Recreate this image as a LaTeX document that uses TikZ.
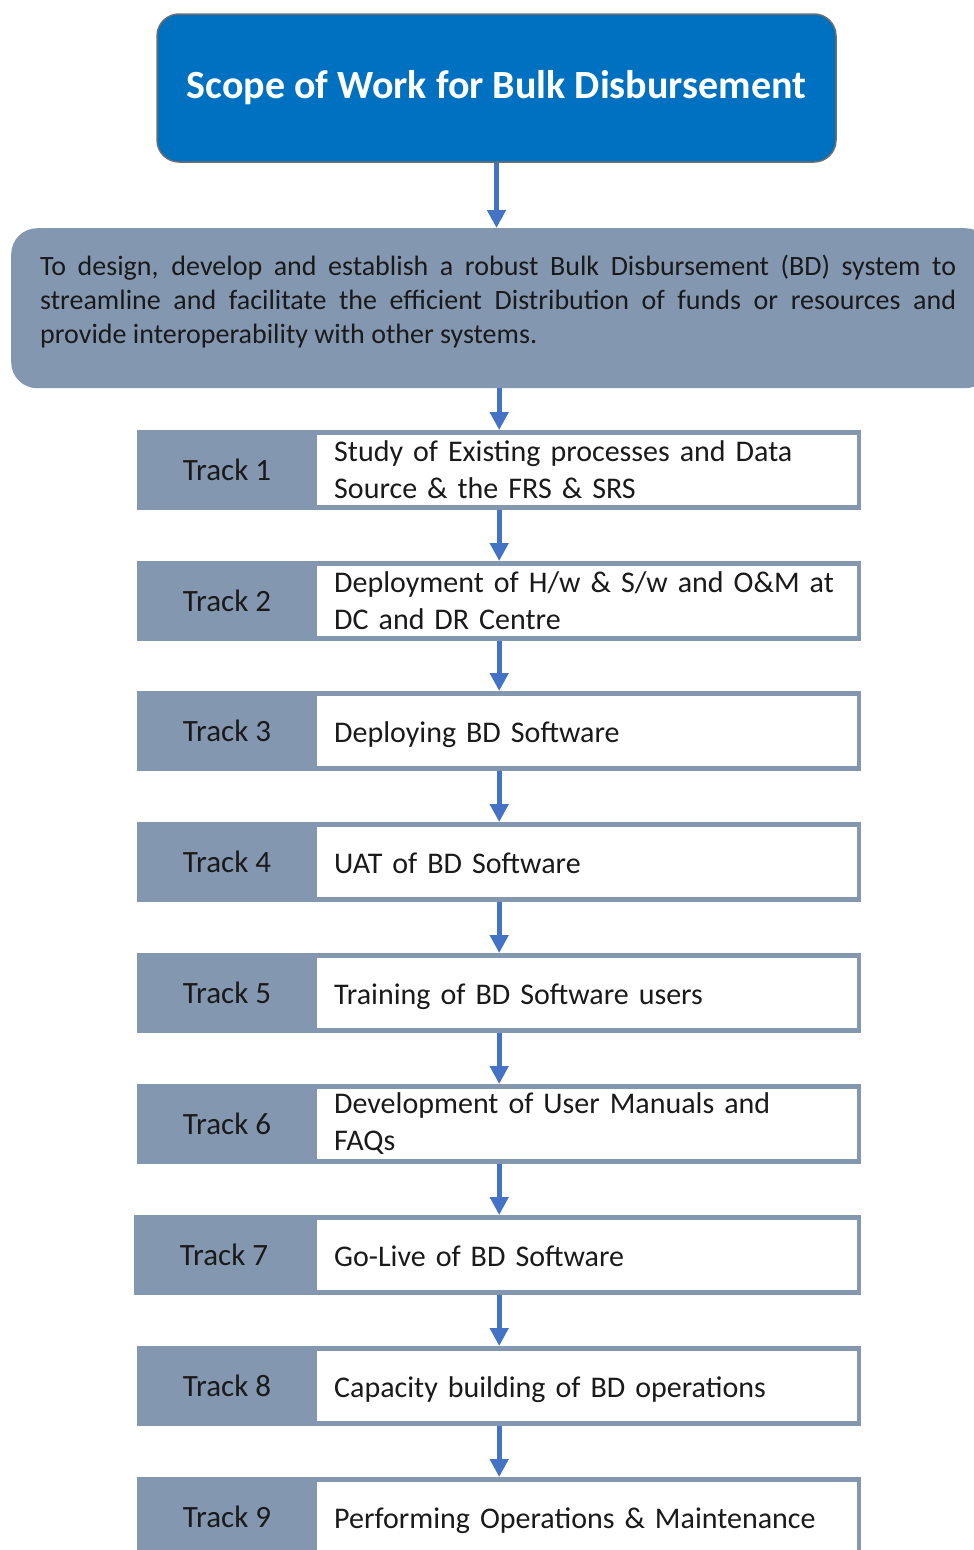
\documentclass[tikz,border=0pt]{standalone}
\usepackage{fontspec}
\setmainfont{Carlito}
\usetikzlibrary{arrows.meta}
\definecolor{titleblue}{HTML}{0070C0}
\definecolor{slate}{HTML}{8497B0}
\definecolor{arrowblue}{HTML}{4472C4}
\definecolor{titleedge}{HTML}{6E6E6E}
\definecolor{ink}{HTML}{1A1A1A}
\newcommand{\oneline}[1]{\raisebox{-11pt}[0pt][0pt]{#1}}
\begin{document}
\begin{tikzpicture}[x=1pt,y=-1pt,
  titlebox/.style={draw=titleedge, line width=1.5pt, fill=titleblue, rounded corners=22pt, minimum width=679pt, minimum height=148pt, text=white, font=\fontsize{40}{46}\selectfont\bfseries, inner sep=0pt},
  descbox/.style={fill=slate, rounded corners=26pt, minimum width=980pt, minimum height=160pt, inner sep=0pt, anchor=north west},
  desctext/.style={text width=916pt, inner sep=0pt, align=justify, font=\fontsize{28}{34}\selectfont, text=ink, anchor=north west},
  rowbox/.style={fill=slate, minimum width=724pt, minimum height=80pt, inner sep=0pt, anchor=north west},
  tasklabel/.style={font=\fontsize{31}{36}\selectfont, text=ink, inner sep=0pt},
  taskbox/.style={fill=white, minimum height=70pt, text width=506pt, inner xsep=17pt, inner ysep=0pt, align=left, anchor=west, font=\fontsize{30}{37}\selectfont, text=ink},
  flow/.style={draw=arrowblue, line width=5pt, -{Triangle[width=18pt,length=18pt]}}
]
\useasboundingbox (0,0) rectangle (974,1550);
\fill[white] (0,0) rectangle (974,1550);

\node[titlebox] (title) at (496.5,88) {\raisebox{-2pt}{Scope of Work for Bulk Disbursement}};

\node[descbox] (desc) at (11,228) {};
\node[desctext] (desctext) at (40,255) {To design, develop and establish a robust Bulk Disbursement (BD) system to\linebreak streamline and facilitate the efficient Distribution of funds or resources and\linebreak provide interoperability with other systems.};

% rows
\node[rowbox] (row1) at (137,430) {};
\node[rowbox] (row2) at (137,561) {};
\node[rowbox] (row3) at (137,691) {};
\node[rowbox] (row4) at (137,822) {};
\node[rowbox] (row5) at (137,953) {};
\node[rowbox] (row6) at (137,1084) {};
\node[rowbox, minimum width=727pt] (row7) at (134,1215) {};
\node[rowbox] (row8) at (137,1346) {};
\node[rowbox] (row9) at (137,1477) {};

\node[tasklabel] (lab1) at (227,470) {Track 1};
\node[tasklabel] (lab2) at (227,601) {Track 2};
\node[tasklabel] (lab3) at (227,731) {Track 3};
\node[tasklabel] (lab4) at (227,862) {Track 4};
\node[tasklabel] (lab5) at (227,993) {Track 5};
\node[tasklabel] (lab6) at (227,1124) {Track 6};
\node[tasklabel] (lab7) at (224,1255) {Track 7};
\node[tasklabel] (lab8) at (227,1386) {Track 8};
\node[tasklabel] (lab9) at (227,1517) {Track 9};

\node[taskbox] (box1) at (317,470) {Study of Existing processes and Data\\Source \& the FRS \& SRS};
\node[taskbox] (box2) at (317,601) {Deployment of H/w \& S/w and O\&M at\\DC and DR Centre};
\node[taskbox] (box3) at (317,731) {\oneline{Deploying BD Software}};
\node[taskbox] (box4) at (317,862) {\oneline{UAT of BD Software}};
\node[taskbox] (box5) at (317,993) {\oneline{Training of BD Software users}};
\node[taskbox] (box6) at (317,1124) {Development of User Manuals and\\FAQs};
\node[taskbox] (box7) at (317,1255) {\oneline{Go-Live of BD Software}};
\node[taskbox] (box8) at (317,1386) {\oneline{Capacity building of BD operations}};
\node[taskbox] (box9) at (317,1517) {\oneline{Performing Operations \& Maintenance}};

% connectors
\draw[flow] (title.south) -- (title.south |- desc.north);
\draw[flow] (row1.north |- desc.south) -- (row1.north);
\draw[flow] (row1.south) -- (row2.north);
\draw[flow] (row2.south) -- (row3.north);
\draw[flow] (row3.south) -- (row4.north);
\draw[flow] (row4.south) -- (row5.north);
\draw[flow] (row5.south) -- (row6.north);
\draw[flow] (row6.south) -- (row6.south |- row7.north);
\draw[flow] (row6.south |- row7.south) -- (row8.north);
\draw[flow] (row8.south) -- (row9.north);
\end{tikzpicture}
\end{document}
